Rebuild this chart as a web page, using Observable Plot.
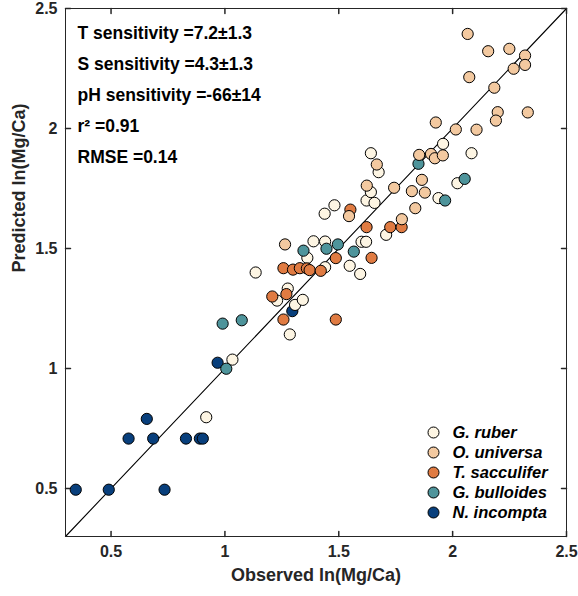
<!DOCTYPE html>
<html>
<head>
<meta charset="utf-8">
<script src="https://cdn.jsdelivr.net/npm/d3@7"></script>
<script src="https://cdn.jsdelivr.net/npm/@observablehq/plot@0.6"></script>
<style>
  html, body { margin: 0; padding: 0; background: #fff; }
</style>
</head>
<body>
<div id="chart"></div>
<script>
// ---- data (observed, predicted) ----
const nIncompta = [
  [0.345, 0.495], [0.49, 0.495], [0.735, 0.495], [0.577, 0.708], [0.685, 0.708],
  [0.657, 0.79], [0.829, 0.708], [0.89, 0.708], [0.903, 0.708], [0.968, 1.024], [1.296, 1.239]
];
const gBulloides = [
  [1.006, 0.999], [0.99, 1.187], [1.074, 1.201], [1.345, 1.491], [1.446, 1.499],
  [1.496, 1.517], [1.566, 1.487], [1.85, 1.853], [1.967, 1.70], [2.053, 1.79]
];
const gRuber = [
  [0.918, 0.797], [1.033, 1.037], [1.135, 1.40], [1.229, 1.283], [1.276, 1.333],
  [1.308, 1.265], [1.342, 1.286], [1.285, 1.142], [1.362, 1.461], [1.389, 1.53],
  [1.44, 1.529], [1.44, 1.422], [1.548, 1.428], [1.594, 1.394], [1.60, 1.528],
  [1.62, 1.528], [1.438, 1.645], [1.481, 1.68], [1.622, 1.70], [1.657, 1.69],
  [1.641, 1.735], [1.641, 1.897], [1.675, 1.818], [1.708, 1.557], [1.958, 1.936],
  [2.083, 1.897], [2.021, 1.772], [1.938, 1.71]
];
const tSacculifer = [
  [1.208, 1.30], [1.27, 1.31], [1.257, 1.204], [1.487, 1.204], [1.257, 1.418],
  [1.299, 1.412], [1.329, 1.418], [1.36, 1.417], [1.372, 1.41], [1.421, 1.407],
  [1.487, 1.46], [1.644, 1.461], [1.551, 1.662], [1.622, 1.589], [1.726, 1.589],
  [1.776, 1.589]
];
const oUniversa = [
  [1.264, 1.517], [1.545, 1.635], [1.623, 1.762], [1.667, 1.85], [1.743, 1.753],
  [1.777, 1.622], [1.821, 1.739], [1.836, 1.668], [1.865, 1.786], [1.878, 1.733],
  [1.853, 1.89], [1.905, 1.894], [1.922, 1.876], [1.957, 1.888], [1.926, 2.025],
  [2.014, 1.996], [2.105, 1.995], [2.073, 2.214], [2.066, 2.394], [2.156, 2.322],
  [2.249, 2.332], [2.318, 2.304], [2.318, 2.265], [2.268, 2.249], [2.183, 2.17],
  [2.198, 2.068], [2.19, 2.033], [2.33, 2.067]
];

const speciesNames = ["G. ruber", "O. universa", "T. sacculifer", "G. bulloides", "N. incompta"];
const speciesColors = ["#fdf5e3", "#f3c9a0", "#e07b42", "#4e949b", "#083f7c"];
const speciesData = [gRuber, oUniversa, tSacculifer, gBulloides, nIncompta];
const drawOrder = [4, 0, 3, 2, 1];

const xTicks = [0.5, 1, 1.5, 2, 2.5];
const yTicks = [0.5, 1, 1.5, 2, 2.5];
const domainLimits = [0.3, 2.5];
const xLabel = "Observed ln(Mg/Ca)";
const yLabel = "Predicted ln(Mg/Ca)";
const statLines = [
  "T sensitivity =7.2\u00b11.3",
  "S sensitivity =4.3\u00b11.3",
  "pH sensitivity =-66\u00b114",
  "r\u00b2 =0.91",
  "RMSE =0.14"
];

// ---- build table ----
const points = [];
for (const k of drawOrder) {
  for (const [o, p] of speciesData[k]) points.push({species: speciesNames[k], obs: o, pred: p});
}
const axisColor = "#262626";
const tickShape = {draw(context, l) { context.moveTo(0, 0); context.lineTo(0, -l); }};

const legendMarks = speciesNames.flatMap((s, i) => [
  Plot.dot([s], {frameAnchor: "bottom-right", dx: -133, dy: -104 + i * 20, r: 5.5,
    fill: speciesColors[i], stroke: "#000", strokeWidth: 1}),
  Plot.text([s], {frameAnchor: "bottom-right", dx: -114, dy: -104 + i * 20, text: d => d,
    textAnchor: "start", lineAnchor: "middle", fontSize: 16.5, fontStyle: "italic",
    fontWeight: "bold", fill: "#000"})
]);

const statMarks = statLines.map((s, i) =>
  Plot.text([s], {frameAnchor: "top-left", dx: 12, dy: 25 + i * 31, text: d => d,
    textAnchor: "start", lineAnchor: "middle", fontSize: 17.5, fontWeight: "bold", fill: "#000"})
);

const chart = Plot.plot({
  width: 578,
  height: 596,
  marginLeft: 65,
  marginRight: 12,
  marginTop: 8,
  marginBottom: 60,
  style: {fontFamily: "'Liberation Sans', Arial, sans-serif", fontWeight: "bold", background: "#fff"},
  x: {domain: domainLimits, ticks: xTicks, label: null},
  y: {domain: domainLimits, ticks: yTicks, label: null},
  color: {domain: speciesNames, range: speciesColors},
  marks: [
    Plot.axisX(xTicks, {tickSize: 0, tickPadding: 9, fontSize: 16, fill: axisColor, tickFormat: d => String(d), label: null}),
    Plot.axisY(yTicks, {tickSize: 0, tickPadding: 8, fontSize: 16, fill: axisColor, tickFormat: d => String(d), label: null}),
    Plot.vector(xTicks, {x: d => d, frameAnchor: "bottom", length: 5, rotate: 0, anchor: "start", shape: tickShape, stroke: axisColor}),
    Plot.vector(xTicks, {x: d => d, frameAnchor: "top", length: 5, rotate: 180, anchor: "start", shape: tickShape, stroke: axisColor}),
    Plot.vector(yTicks, {y: d => d, frameAnchor: "left", length: 5, rotate: 90, anchor: "start", shape: tickShape, stroke: axisColor}),
    Plot.vector(yTicks, {y: d => d, frameAnchor: "right", length: 5, rotate: -90, anchor: "start", shape: tickShape, stroke: axisColor}),
    Plot.line(domainLimits.map(v => ({o: v, p: v})), {x: "o", y: "p", stroke: "#000", strokeWidth: 1.1}),
    Plot.dot(points, {x: "obs", y: "pred", fill: "species", r: 5.6, stroke: "#000", strokeWidth: 1}),
    ...statMarks,
    ...legendMarks,
    Plot.text([xLabel], {frameAnchor: "bottom", dy: 44, text: d => d, fontSize: 18, fontWeight: "bold", fill: axisColor}),
    Plot.text([yLabel], {frameAnchor: "left", dx: -46, rotate: -90, text: d => d, fontSize: 18, fontWeight: "bold", fill: axisColor}),
    Plot.frame({stroke: axisColor, strokeWidth: 1})
  ]
});
document.getElementById("chart").appendChild(chart);
</script>
</body>
</html>
